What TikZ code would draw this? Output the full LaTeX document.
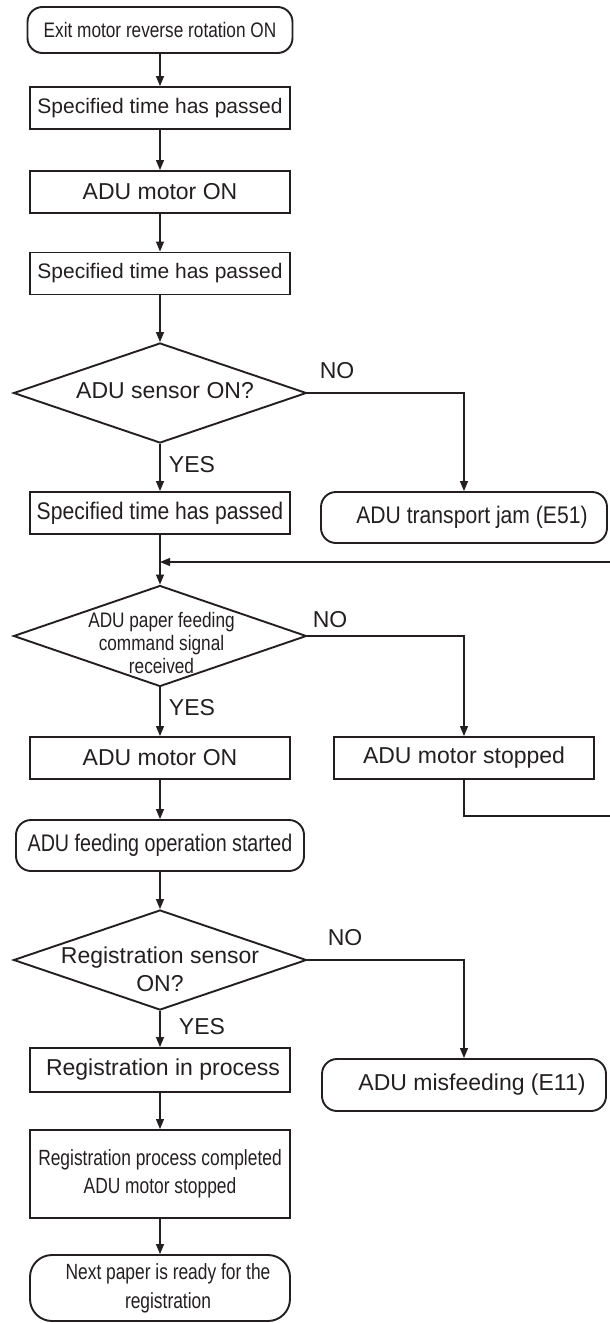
\documentclass[tikz,border=0pt]{standalone}
\usepackage{fontspec}
\setmainfont{Liberation Sans}
\newfontfamily\narrowA[FakeStretch=0.82]{Liberation Sans}
\newfontfamily\narrowB[FakeStretch=0.88]{Liberation Sans}
\newfontfamily\narrowC[FakeStretch=0.79]{Liberation Sans}
\usepackage{tikz}
\usetikzlibrary{arrows.meta,shapes.geometric}
\definecolor{ink}{HTML}{231F20}

\begin{document}
\begin{tikzpicture}[x=.5pt,y=-.5pt, every node/.style={font=\fontsize{11.5}{14}\selectfont,text=ink}, proc/.style={draw=ink,line width=.95pt,minimum width=130pt,minimum height=21pt,inner sep=1pt,align=center}, term/.style={draw=ink,line width=.95pt,rounded corners=7.5pt,minimum height=25.5pt,inner sep=1pt,align=center}, dec/.style={draw=ink,diamond,line width=.95pt,minimum width=146.5pt,minimum height=50pt,inner sep=0pt}, ar/.style={draw=ink,line width=.55pt,-{Triangle[length=5pt,width=4pt]}}, yn/.style={inner sep=0pt}]
\useasboundingbox (0,0) rectangle (610,1323);
% main column
\node[term,minimum width=132.5pt,minimum height=23pt,font=\narrowA\fontsize{10.5}{12}\selectfont] (start) at (160,30) {Exit motor reverse rotation ON};
\node[proc,font=\fontsize{10.5}{12}\selectfont] (wait1) at (160,108) {Specified time has passed};
\node[proc] (motor1) at (160,192) {ADU motor ON};
\node[proc,font=\fontsize{10.5}{12}\selectfont] (wait2) at (160,273.5) {Specified time has passed};
\node[dec] (adusens) at (160,393) {};
\node (adusenstxt) at (165,391) {ADU sensor ON?};
\node[proc,font=\narrowB\fontsize{12}{14}\selectfont] (wait3) at (160,513) {Specified time has passed};
\coordinate (join) at (160,562);
\node[dec,minimum height=50.5pt] (feedcmd) at (160,636) {};
\node[align=center,inner sep=0pt,font=\narrowA\fontsize{10.5}{11.5}\selectfont] (feedcmdtxt) at (161.5,643) {ADU paper feeding\\command signal\\received};
\node[proc] (motor2) at (160,758) {ADU motor ON};
\node[term,minimum width=144pt,font=\narrowA\fontsize{12}{14}\selectfont] (feedstart) at (160,845.5) {ADU feeding operation started};
\node[dec] (regsens) at (160,960) {};
\node[align=center,inner sep=0pt] (regsenstxt) at (160,969) {Registration sensor\\ON?};
\node[proc,minimum height=22pt] (regproc) at (160,1070) {\hspace*{3pt}Registration in process};
\node[proc,minimum height=44pt,font=\narrowC\fontsize{11}{14}\selectfont] (regdone) at (160,1174) {Registration process completed\\ADU motor stopped};
\node[term,minimum width=130pt,minimum height=33pt,rounded corners=11pt,font=\narrowC\fontsize{11}{14.5}\selectfont] (nextpaper) at (160,1288) {\hspace*{8pt}Next paper is ready for the\\\hspace*{8pt}registration};
% right column
\node[term,minimum width=143pt,font=\narrowB\fontsize{12}{14}\selectfont] (jam) at (464,517.5) {\hspace*{8pt}ADU transport jam (E51)};
\node[proc] (motorstop) at (464,758) {ADU motor stopped};
\node[term,minimum width=142pt,minimum height=26pt] (misfeed) at (464,1085) {\hspace*{8pt}ADU misfeeding (E11)};
\coordinate (rtrack) at (613,816);
% labels
\node[yn] (no1) at (337,371) {NO};
\node[yn] (yes1) at (192,465) {YES};
\node[yn] (no2) at (330,620) {NO};
\node[yn] (yes2) at (192,708) {YES};
\node[yn] (no3) at (345,938) {NO};
\node[yn] (yes3) at (202,1027) {YES};
% connectors
\draw[ar] (start) -- (wait1);
\draw[ar] (wait1) -- (motor1);
\draw[ar] (motor1) -- (wait2);
\draw[ar] (wait2) -- (adusens);
\draw[ar] (adusens) -- (wait3);
\draw[ar] (adusens.east) -| (jam.north);
\draw[ar] (wait3) -- (feedcmd);
\draw[ar] (feedcmd.east) -| (motorstop.north);
\draw[ar] (feedcmd) -- (motor2);
\draw[ar] (motorstop.south) |- (rtrack) |- (join);
\draw[ar] (motor2) -- (feedstart);
\draw[ar] (feedstart) -- (regsens);
\draw[ar] (regsens.east) -| (misfeed.north);
\draw[ar] (regsens) -- (regproc);
\draw[ar] (regproc) -- (regdone);
\draw[ar] (regdone) -- (nextpaper);
\end{tikzpicture}
\end{document}
